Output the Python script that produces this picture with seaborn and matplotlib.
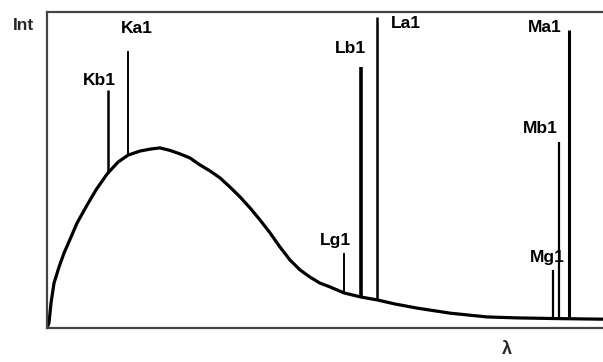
import numpy as np
import pandas as pd
import matplotlib
matplotlib.use("Agg")
import matplotlib.pyplot as plt
import seaborn as sns

# Continuous background (bremsstrahlung), arbitrary units
wavelength = [0.0, 0.36, 0.72, 1.26, 2.16, 3.06, 4.32, 5.40, 7.01, 8.81,
              10.79, 12.77, 14.57, 16.73, 18.53, 20.32, 22.12, 23.92, 25.72,
              27.52, 29.32, 31.12, 32.91, 34.71, 36.51, 38.31, 40.11, 41.91,
              43.71, 45.50, 47.30, 49.10, 50.90, 53.42, 56.47, 59.35, 62.59,
              66.55, 72.48, 79.14, 84.53, 91.01, 99.46, 101.0]
intensity = [0.0, 1.6, 7.9, 14.2, 19.3, 23.7, 28.8, 33.2, 38.3, 43.7, 48.7,
             52.5, 54.7, 56.0, 56.6, 57.0, 56.2, 55.1, 53.8, 51.6, 49.7,
             47.5, 44.6, 41.5, 38.0, 34.2, 30.1, 25.6, 21.5, 18.4, 16.1,
             14.2, 13.0, 11.1, 9.8, 8.9, 7.6, 6.3, 4.7, 3.5, 3.2, 3.0, 2.8,
             2.8]

# Characteristic lines: position and top intensity
line_names = ["Kb1", "Ka1", "Lg1", "Lb1", "La1", "Mg1", "Mb1", "Ma1"]
line_pos = [11.0, 14.6, 53.4, 56.5, 59.4, 91.0, 92.1, 93.8]
line_top = [75.3, 87.7, 23.7, 82.6, 98.4, 18.4, 58.9, 94.3]

# label offsets in pixels from the line tops (layout only)
label_offset = {"Kb1": (-9, 10), "Ka1": (9, 22), "Lg1": (-8, 13),
                "Lb1": (-11, 18), "La1": (29, -6), "Mg1": (-6, 12),
                "Mb1": (-19, 13), "Ma1": (-24, 3)}
line_width = {"Kb1": 1.8, "Ka1": 1.4, "Lg1": 1.4, "Lb1": 2.6, "La1": 1.8,
              "Mg1": 1.6, "Mb1": 1.6, "Ma1": 2.2}

sns.set_style("white")
plt.rcParams["font.family"] = ["Liberation Sans", "DejaVu Sans"]

fig = plt.figure(figsize=(6.03, 3.62), dpi=100)
ax = fig.add_axes([47 / 603, 34 / 362, 556 / 603, 316 / 362])

df = pd.DataFrame({"wavelength": wavelength, "intensity": intensity})
sns.lineplot(data=df, x="wavelength", y="intensity", ax=ax, color="black",
             linewidth=2.3, sort=False)

base = np.interp(line_pos, wavelength, intensity)
for name, x, top, b in zip(line_names, line_pos, line_top, base):
    ax.vlines(x, b, top, color="black", linewidth=line_width[name])
    dx, dy = label_offset[name]
    ax.annotate(name, (x, top), xytext=(dx, dy), textcoords="offset pixels",
                ha="center", va="center", fontsize=12.5, fontweight="bold",
                color="black")

ax.set_xlim(0, 100)
ax.set_ylim(0, 100)
ax.set_xticks([])
ax.set_yticks([])
ax.set_xlabel("")
ax.set_ylabel("")
for side in ["left", "top", "bottom"]:
    ax.spines[side].set_color("#444444")
    ax.spines[side].set_linewidth(1.6)
ax.spines["right"].set_visible(False)

fig.text(24 / 603, 1 - 25 / 362, "Int", ha="center", va="center",
         fontsize=12.5, fontweight="bold")
fig.text(507 / 603, 1 - 349 / 362, "λ", ha="center", va="center",
         fontsize=13, fontweight="bold")

fig.savefig("out.png", dpi=100)
